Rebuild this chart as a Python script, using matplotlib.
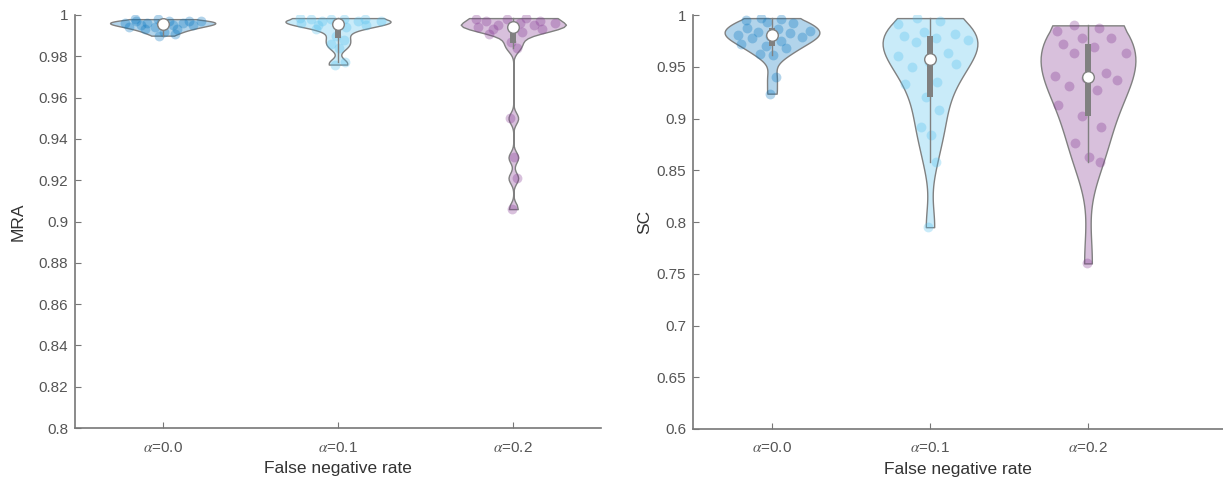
import matplotlib
matplotlib.use('Agg')
import matplotlib.pyplot as plt
import numpy as np
from matplotlib.patches import Rectangle
from matplotlib.ticker import FuncFormatter

plt.rcParams['font.family'] = ['Liberation Sans', 'DejaVu Sans']
plt.rcParams['mathtext.fontset'] = 'stix'

# values
groups = [r'$\alpha$=0.0', r'$\alpha$=0.1', r'$\alpha$=0.2']
colors = ['#0072BD', '#4DBEEE', '#7E2F8E']

mra_a00 = [0.998, 0.998, 0.997, 0.997, 0.997, 0.997, 0.996, 0.996, 0.996, 0.996,
           0.995, 0.995, 0.995, 0.994, 0.994, 0.993, 0.993, 0.992, 0.991, 0.990]
mra_a01 = [0.976, 0.977, 0.984, 0.986, 0.988, 0.990, 0.993, 0.994, 0.995, 0.995,
           0.996, 0.996, 0.997, 0.997, 0.997, 0.998, 0.998, 0.998, 0.998, 0.9985]
mra_a02 = [0.9985, 0.998, 0.998, 0.997, 0.997, 0.996, 0.996, 0.995, 0.995, 0.994,
           0.994, 0.993, 0.993, 0.992, 0.991, 0.987, 0.984, 0.950, 0.931, 0.921, 0.906]

sc_a00 = [0.997, 0.996, 0.995, 0.993, 0.992, 0.987, 0.986, 0.985, 0.984, 0.983, 0.981,
          0.980, 0.979, 0.978, 0.975, 0.972, 0.970, 0.968, 0.962, 0.961, 0.940, 0.924]
sc_a01 = [0.997, 0.994, 0.991, 0.984, 0.982, 0.980, 0.978, 0.976, 0.974, 0.963, 0.960,
          0.955, 0.953, 0.950, 0.935, 0.933, 0.921, 0.908, 0.892, 0.884, 0.858, 0.795]
sc_a02 = [0.990, 0.987, 0.985, 0.978, 0.978, 0.972, 0.969, 0.963, 0.963, 0.944, 0.941,
          0.939, 0.937, 0.931, 0.928, 0.913, 0.902, 0.892, 0.876, 0.863, 0.858, 0.760]

GRAY = '#808080'


def ksdensity(data, x, bw):
    z = (x[:, None] - data[None, :]) / bw
    return np.exp(-0.5 * z ** 2).sum(axis=1) / (len(data) * bw * np.sqrt(2 * np.pi))


def violin(ax, pos, data, color, width=0.3):
    data = np.sort(np.asarray(data))
    n = len(data)
    sig = np.median(np.abs(data - np.median(data))) / 0.6745
    bw = sig * (4.0 / (3 * n)) ** 0.2
    # same 100-point grid as matlab's ksdensity, cut at the data range
    grid = np.linspace(data.min() - 3 * bw, data.max() + 3 * bw, 100)
    dens = ksdensity(data, grid, bw)
    keep = (grid >= data.min()) & (grid <= data.max())
    grid, dens = grid[keep], dens[keep]
    grid[0], grid[-1] = data.min(), data.max()
    scale = width / dens.max()
    ax.fill_betweenx(grid, pos - dens * scale, pos + dens * scale,
                     facecolor=matplotlib.colors.to_rgba(color, 0.3),
                     edgecolor=GRAY, linewidth=1, zorder=2)
    # jittered points inside the violin
    dpt = np.interp(data, grid, dens) * scale
    jit = ((np.arange(n) * 0.6180339887 + 0.3) % 1.0) * 2 - 1
    ax.scatter(pos + jit * dpt * 0.9, data, s=50, color=color, alpha=0.3,
               linewidths=0, zorder=3)
    q1, med, q3 = np.percentile(data, [25, 50, 75], method='hazen')
    iqr = q3 - q1
    lo = data[data >= q1 - 1.5 * iqr].min()
    hi = data[data <= q3 + 1.5 * iqr].max()
    ax.plot([pos, pos], [lo, hi], color=GRAY, lw=1, zorder=4)
    ax.add_patch(Rectangle((pos - 0.0175, q1), 0.035, q3 - q1,
                           facecolor=GRAY, edgecolor='none', zorder=5))
    ax.scatter([pos], [med], s=70, color='white', edgecolors=GRAY,
               linewidths=1, zorder=6)


def style(ax, ylim, yticks, ylabel, xmax):
    ax.set_xlim(0.5, xmax)
    ax.set_ylim(*ylim)
    ax.set_yticks(yticks)
    ax.yaxis.set_major_formatter(FuncFormatter(lambda v, p: '%g' % round(v, 4)))
    ax.set_xticks([1, 2, 3])
    ax.set_xticklabels(groups)
    for s in ['top', 'right']:
        ax.spines[s].set_visible(False)
    for s in ['left', 'bottom']:
        ax.spines[s].set_color('#777777')
        ax.spines[s].set_linewidth(1.2)
    ax.tick_params(direction='in', length=4, color='#777777', labelcolor='#555555',
                   labelsize=11)
    ax.tick_params(axis='x', pad=9)
    ax.tick_params(axis='y', pad=5)
    ax.set_xlabel('False negative rate', fontsize=12.5, color='#333333', labelpad=5)
    ax.set_ylabel(ylabel, fontsize=12.5, color='#333333')


fig = plt.figure(figsize=(12.23, 4.84), dpi=100)
ax1 = fig.add_axes([75 / 1223, 56 / 484, 526 / 1223, 413 / 484])
ax2 = fig.add_axes([693 / 1223, 55 / 484, 530 / 1223, 414 / 484])

for i, (d, c) in enumerate(zip([mra_a00, mra_a01, mra_a02], colors)):
    violin(ax1, i + 1, d, c)
for i, (d, c) in enumerate(zip([sc_a00, sc_a01, sc_a02], colors)):
    violin(ax2, i + 1, d, c)

style(ax1, (0.8, 1.0), np.arange(0.8, 1.0001, 0.02), 'MRA', 3.5)
style(ax2, (0.6, 1.0), np.arange(0.6, 1.0001, 0.05), 'SC', 0.5 + 530 / 158)
ax1.yaxis.set_label_coords(-0.094, 0.5)
ax2.yaxis.set_label_coords(-0.077, 0.5)

fig.savefig('out.png', dpi=100)
